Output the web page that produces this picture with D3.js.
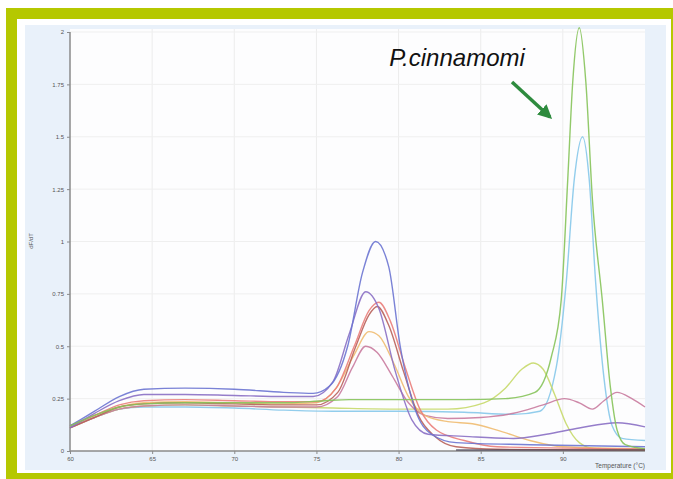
<!DOCTYPE html>
<html>
<head>
<meta charset="utf-8">
<script src="https://cdn.jsdelivr.net/npm/d3@7"></script>
<style>
body{margin:0;background:#fff;}
svg{display:block;font-family:"Liberation Sans",Arial,sans-serif;}
</style>
</head>
<body>
<script>
var width = 673, height = 479;

var xTicks = [60, 65, 70, 75, 80, 85, 90];
var yTicks = [0, 0.25, 0.5, 0.75, 1, 1.25, 1.5, 1.75, 2];
var yTickLabels = ["0", "0.25", "0.5", "0.75", "1", "1.25", "1.5", "1.75", "2"];

// melt curves: [temperature, dF/dT]
var blue = [[60,0.12],[61.5,0.19],[63,0.26],[64.5,0.295],[67,0.3],[70,0.295],[73,0.28],[74.8,0.275],[75.8,0.31],[76.9,0.5],[77.8,0.85],[78.6,1.0],[79.4,0.88],[80.1,0.5],[81,0.2],[82,0.08],[83.5,0.04],[88,0.03],[95,0.02]];
var violet = [[60,0.11],[61.5,0.18],[63,0.24],[64.5,0.27],[67,0.27],[70,0.265],[73,0.26],[74.8,0.26],[76,0.33],[77,0.56],[78,0.76],[78.8,0.68],[79.8,0.38],[80.8,0.15],[81.8,0.08],[84,0.07],[87,0.06],[89,0.08],[91,0.11],[93.3,0.135],[95,0.115]];
var red = [[60,0.12],[61.5,0.17],[63,0.22],[64.5,0.24],[67,0.245],[70,0.24],[73,0.235],[75,0.235],[76.2,0.3],[77.3,0.5],[78.2,0.67],[78.8,0.71],[79.5,0.62],[80.4,0.4],[81.3,0.2],[82.3,0.1],[84,0.05],[86,0.02],[95,0.01]];
var brown = [[60,0.11],[61.5,0.16],[63,0.21],[64.5,0.225],[67,0.23],[70,0.225],[73,0.22],[75,0.22],[76.3,0.28],[77.4,0.5],[78.2,0.65],[78.7,0.69],[79.4,0.6],[80.3,0.38],[81.2,0.17],[82.2,0.07],[83.5,0.02],[86,0.008],[95,0.005]];
var orange = [[60,0.12],[61.5,0.17],[63,0.21],[64.5,0.23],[67,0.235],[70,0.23],[73,0.225],[75,0.23],[76.2,0.3],[77.3,0.46],[78.2,0.57],[78.8,0.55],[79.7,0.42],[80.6,0.26],[81.6,0.17],[83,0.14],[84.5,0.13],[86,0.1],[88,0.05],[90,0.02],[95,0.01]];
var pink = [[60,0.11],[61.5,0.16],[63,0.2],[64.5,0.215],[67,0.22],[70,0.215],[73,0.21],[75,0.21],[76.3,0.26],[77.2,0.4],[78,0.5],[78.7,0.47],[79.6,0.36],[80.6,0.23],[81.6,0.17],[83,0.155],[85,0.16],[87,0.18],[88.8,0.22],[90.1,0.25],[91,0.23],[91.8,0.2],[92.5,0.24],[93.3,0.28],[94.2,0.25],[95,0.21]];
var green = [[60,0.12],[61.5,0.17],[63,0.21],[64.5,0.225],[67,0.23],[70,0.23],[73,0.23],[75.5,0.24],[77,0.245],[80,0.245],[84,0.245],[86.5,0.25],[88.3,0.28],[89.3,0.45],[89.9,0.72],[90.3,1.3],[90.6,1.76],[91,2.02],[91.4,1.76],[91.8,1.2],[92.4,0.72],[92.9,0.3],[93.3,0.1],[93.8,0.03],[95,0.01]];
var cyan = [[60,0.12],[61.5,0.16],[63,0.2],[64.5,0.21],[67,0.21],[70,0.205],[73,0.195],[76,0.19],[80,0.19],[84,0.185],[87,0.175],[88.6,0.19],[89.6,0.4],[90.2,0.8],[90.7,1.3],[91.2,1.5],[91.6,1.3],[92,0.8],[92.5,0.35],[93,0.12],[93.6,0.06],[95,0.05]];
var lime = [[60,0.11],[61.5,0.16],[63,0.2],[64.5,0.215],[67,0.22],[70,0.215],[73,0.21],[76,0.205],[80,0.2],[83,0.2],[85.2,0.23],[86.5,0.3],[87.5,0.39],[88.2,0.42],[88.8,0.39],[89.5,0.27],[90.2,0.13],[91,0.04],[92,0.01],[95,0.005]];

var series = [
  {name:"cyan", pts:cyan, color:"#86c8ea"},
  {name:"lime", pts:lime, color:"#c6d96a"},
  {name:"pink", pts:pink, color:"#c97b9f"},
  {name:"orange", pts:orange, color:"#f0bb70"},
  {name:"brown", pts:brown, color:"#b8605a"},
  {name:"red", pts:red, color:"#ea7d7a"},
  {name:"violet", pts:violet, color:"#8a6fc4"},
  {name:"blue", pts:blue, color:"#6b74d2"},
  {name:"green", pts:green, color:"#86c35a"}
];

var svg = d3.select("body").append("svg")
    .attr("width", width)
    .attr("height", height);

// frame
svg.append("rect").attr("x",6).attr("y",8).attr("width",667).attr("height",11).attr("fill","#b5c800");
svg.append("rect").attr("x",6).attr("y",8).attr("width",11).attr("height",471).attr("fill","#b5c800");
svg.append("rect").attr("x",6).attr("y",473).attr("width",667).attr("height",6).attr("fill","#b5c800");
svg.append("rect").attr("x",671).attr("y",8).attr("width",2).attr("height",471).attr("fill","#b5c800");

// panel
svg.append("rect").attr("x",25).attr("y",25).attr("width",641).attr("height",445).attr("fill","#e9f1fa");

var plotL = 70, plotR = 645, plotT = 29, plotB = 451;
var x = d3.scaleLinear().domain([60, 95]).range([plotL, plotR]);
var y = d3.scaleLinear().domain([0, 2]).range([plotB, 32]);

svg.append("rect").attr("x",plotL).attr("y",plotT).attr("width",plotR-plotL).attr("height",plotB-plotT).attr("fill","#fdfdfe");

// grid
svg.append("g").selectAll("line").data(xTicks.slice(1)).enter().append("line")
    .attr("x1",function(d){return x(d);}).attr("x2",function(d){return x(d);})
    .attr("y1",plotT).attr("y2",plotB)
    .attr("stroke","#ececec").attr("stroke-width",1);
svg.append("g").selectAll("line").data(yTicks.slice(1)).enter().append("line")
    .attr("x1",plotL).attr("x2",plotR)
    .attr("y1",function(d){return y(d);}).attr("y2",function(d){return y(d);})
    .attr("stroke","#efefef").attr("stroke-width",1);

// axes
var yAxis = d3.axisLeft(y).tickValues(yTicks).tickSize(3)
    .tickFormat(function(d,i){return yTickLabels[i];});
var gy = svg.append("g").attr("transform","translate("+plotL+",0)").call(yAxis);
var xAxis = d3.axisBottom(x).tickValues(xTicks).tickSize(3);
var gx = svg.append("g").attr("transform","translate(0,"+plotB+")").call(xAxis);
[gy, gx].forEach(function(g){
  g.select(".domain").attr("stroke","#8a8a8a").attr("stroke-width",1.5);
  g.selectAll(".tick line").attr("stroke","#8a8a8a");
  g.selectAll(".tick text").attr("fill","#555").style("font-size","6px");
});
gx.select(".domain").attr("d","M"+plotL+",0H"+plotR);
gy.select(".domain").attr("d","M0,"+y(2)+"V"+plotB);

// curves
var line = d3.line()
    .x(function(d){return x(d[0]);})
    .y(function(d){return y(d[1]);})
    .curve(d3.curveMonotoneX);

svg.append("g").selectAll("path").data(series).enter().append("path")
    .attr("d",function(d){return line(d.pts);})
    .attr("fill","none")
    .attr("stroke",function(d){return d.color;})
    .attr("stroke-width",1.4)
    .attr("stroke-opacity",0.9);

// dark baseline of converged curves
svg.append("line").attr("x1",x(83.5)).attr("x2",x(95)).attr("y1",plotB-1).attr("y2",plotB-1)
    .attr("stroke","#4a4456").attr("stroke-width",1.6).attr("opacity",0.8);

// axis titles
svg.append("text").attr("transform","translate(33,241) rotate(-90)")
    .attr("text-anchor","middle").attr("fill","#555").style("font-size","6px").text("dF/dT");
svg.append("text").attr("x",645).attr("y",468).attr("text-anchor","end")
    .attr("fill","#555").style("font-size","6.5px").text("Temperature (°C)");

// annotation
svg.append("text").attr("x",457).attr("y",66).attr("text-anchor","middle")
    .attr("fill","#111").style("font-size","24px").style("font-style","italic")
    .text("P.cinnamomi");
var defs = svg.append("defs");
defs.append("marker").attr("id","ah").attr("viewBox","0 0 10 10").attr("refX",8).attr("refY",5)
    .attr("markerWidth",4).attr("markerHeight",4).attr("orient","auto")
    .append("path").attr("d","M0,0L10,5L0,10z").attr("fill","#2e8b3e");
svg.append("line").attr("x1",512).attr("y1",82).attr("x2",550).attr("y2",117)
    .attr("stroke","#2e8b3e").attr("stroke-width",3.5).attr("marker-end","url(#ah)");
</script>
</body>
</html>
